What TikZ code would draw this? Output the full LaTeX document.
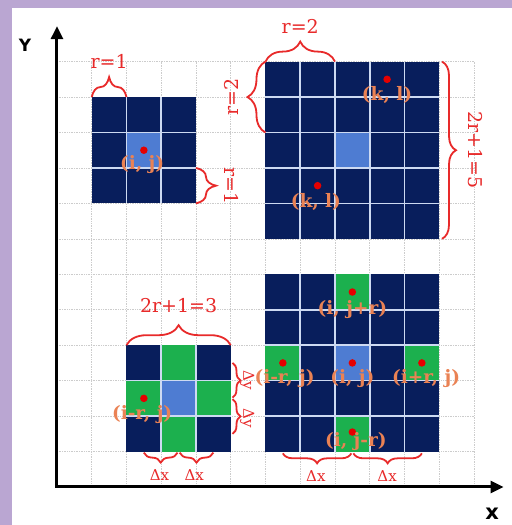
\documentclass[tikz,border=0pt]{standalone}
\usepackage{fontspec}
\setmainfont{DejaVu Serif}
\setsansfont{DejaVu Sans}
\usepackage{tikz}
\usetikzlibrary{
  arrows.meta,
  positioning,
  decorations.pathreplacing
}
\definecolor{navy}{RGB}{8,30,92}
\definecolor{cellblue}{RGB}{78,124,210}
\definecolor{cellgreen}{RGB}{28,176,78}
\definecolor{bracered}{RGB}{232,42,42}
\definecolor{lblorange}{RGB}{234,130,84}
\definecolor{lavender}{RGB}{186,166,210}
\definecolor{sepline}{RGB}{205,218,242}

\begin{document}
\begin{tikzpicture}[
  x=34.75pt, y=35.45pt,
  gridline/.style={gray!40, densely dotted, line width=0.7pt},
  axis/.style={line width=3pt, {Triangle[length=13pt,width=12pt]}-{Triangle[length=13pt,width=12pt]}},
  sep/.style={sepline, line width=1.6pt},
  brc/.style={decorate, decoration={brace, amplitude=#1}, bracered, line width=1.8pt},
  brc/.default=20pt,
  lbl/.style={text=bracered, font=\fontsize{19}{19}\selectfont, inner sep=0pt},
  dlbl/.style={text=bracered, font=\fontsize{15}{15}\selectfont, inner sep=0pt},
  idxlbl/.style={text=lblorange, font=\fontsize{18.5}{18.5}\selectfont\bfseries, inner sep=0pt},
  dot/.style={circle, fill=red!90!black, inner sep=0pt, minimum size=7.5pt},
  axlbl/.style={font=\sffamily\bfseries, inner sep=0pt}
]
  % background and frame
  \fill[lavender] (-1.640,-1.072) rectangle (13.094,13.738);
  \fill[white] (-1.295,-1.072) rectangle (13.094,13.512);
  \useasboundingbox (-1.640,-1.072) rectangle (13.094,13.738);

  % grid
  \foreach \x in {1,...,12}
    \draw[gridline] (\x,0) -- (\x,12);
  \foreach \y in {1,...,12}
    \draw[gridline] (0,\y) -- (12,\y);

  % top left window, r=1
  \fill[navy] (1,8) rectangle (4,11);
  \fill[cellblue] (2,9) rectangle (3,10);
  \foreach \x in {2,3}
    \draw[sep] (\x,8) -- (\x,11);
  \foreach \y in {9,10}
    \draw[sep] (1,\y) -- (4,\y);

  % top right window, r=2
  \fill[navy] (6,7) rectangle (11,12);
  \fill[cellblue] (8,9) rectangle (9,10);
  \foreach \x in {7,...,10}
    \draw[sep] (\x,7) -- (\x,12);
  \foreach \y in {8,...,11}
    \draw[sep] (6,\y) -- (11,\y);

  % bottom left window, neighbours at distance 1
  \fill[navy] (2,1) rectangle (5,4);
  \foreach \a/\b in {3/3, 2/2, 4/2, 3/1}
    \fill[cellgreen] (\a,\b) rectangle ++(1,1);
  \fill[cellblue] (3,2) rectangle (4,3);
  \foreach \x in {3,4}
    \draw[sep] (\x,1) -- (\x,4);
  \foreach \y in {2,3}
    \draw[sep] (2,\y) -- (5,\y);

  % bottom right window, neighbours at distance 2
  \fill[navy] (6,1) rectangle (11,6);
  \foreach \a/\b in {8/5, 6/3, 10/3, 8/1}
    \fill[cellgreen] (\a,\b) rectangle ++(1,1);
  \fill[cellblue] (8,3) rectangle (9,4);
  \foreach \x in {7,...,10}
    \draw[sep] (\x,1) -- (\x,6);
  \foreach \y in {2,...,5}
    \draw[sep] (6,\y) -- (11,\y);

  % axes
  \coordinate (o) at (0,0);
  \coordinate (ytip) at (0,13);
  \coordinate (xtip) at (12.85,0);
  \draw[axis] (ytip) -- (o) -- (xtip);
  \node[axlbl, font=\sffamily\bfseries\fontsize{17}{17}\selectfont] (ylbl) at (-0.92,12.47) {Y};
  \node[axlbl, font=\sffamily\bfseries\fontsize{21}{21}\selectfont] (xlbl) at (12.52,-0.75) {x};

  % braces
  \draw[brc] (1,11) -- (2,11);
  \node[lbl] (ra) at (1.5,12) {r=1};
  \draw[brc] (4,9) -- (4,8);
  \node[lbl, rotate=-90] (rb) at (5.03,8.5) {r=1};
  \draw[brc] (6,12) -- (8,12);
  \node[lbl] (rc) at (7,12.98) {r=2};
  \draw[brc=18pt] (6,10) -- (6,12);
  \node[lbl, rotate=90] (rd) at (5.03,11) {r=2};
  \draw[brc=14pt] (11.08,12) -- (11.08,7);
  \node[lbl, rotate=-90] (re) at (12.05,9.5) {2r+1=5};
  \draw[brc] (2,4) -- (5,4);
  \node[lbl] (rf) at (3.5,5.13) {2r+1=3};

  \draw[brc=8pt] (5.05,3.5) -- (5.05,2.52);
  \draw[brc=8pt] (5.05,2.48) -- (5.05,1.5);
  \node[dlbl, rotate=-90] (dya) at (5.47,3.0) {Δy};
  \node[dlbl, rotate=-90] (dyb) at (5.47,1.95) {Δy};
  \draw[brc=10pt] (3.47,0.97) -- (2.5,0.97);
  \draw[brc=10pt] (4.5,0.97) -- (3.53,0.97);
  \node[dlbl] (dxa) at (2.95,0.34) {Δx};
  \node[dlbl] (dxb) at (3.95,0.34) {Δx};
  \draw[brc=10pt] (8.47,0.95) -- (6.5,0.95);
  \draw[brc=10pt] (10.5,0.95) -- (8.53,0.95);
  \node[dlbl] (dxc) at (7.45,0.3) {Δx};
  \node[dlbl] (dxd) at (9.5,0.3) {Δx};

  % centre dots and indices
  \foreach \n/\p in {da/{2.5,9.5}, db/{9.5,11.5}, dc/{7.5,8.5}, dd/{2.5,2.5},
                     de/{8.5,5.5}, df/{6.5,3.5}, dg/{8.5,3.5}, dh/{10.5,3.5}, di/{8.5,1.55}}
    \node[dot] (\n) at (\p) {};
  \node[idxlbl] (ij) at (2.45,9.1) {(i, j)};
  \node[idxlbl] (kla) at (9.5,11.05) {(k, l)};
  \node[idxlbl] (klb) at (7.45,8.05) {(k, l)};
  \node[idxlbl] (imr) at (2.45,2.05) {(i-r, j)};
  \node[idxlbl] (ijpr) at (8.5,5.0) {(i, j+r)};
  \node[idxlbl] (imrb) at (6.55,3.05) {(i-r, j)};
  \node[idxlbl] (ijc) at (8.5,3.05) {(i, j)};
  \node[idxlbl] (ipr) at (10.62,3.05) {(i+r, j)};
  \node[idxlbl] (ijmr) at (8.6,1.27) {(i, j-r)};
\end{tikzpicture}
\end{document}
